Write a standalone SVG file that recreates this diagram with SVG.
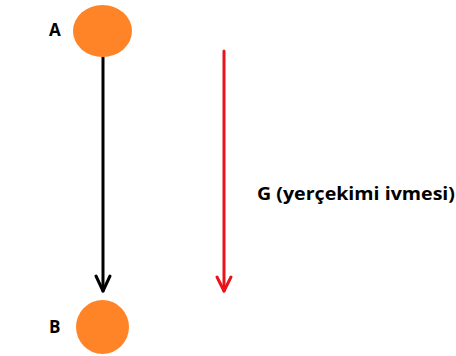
<svg xmlns="http://www.w3.org/2000/svg" width="456" height="356" viewBox="0 0 456 356">
<style>
.node{fill:#ff8427}
.lbl{font-family:"Open Sans","Liberation Sans",sans-serif;font-weight:bold;font-size:17px;fill:#000}
</style>
<rect width="456" height="356" fill="#fff"/>
<g id="connectors" fill="none" stroke-width="3" stroke-linecap="round">
<g id="ab" stroke="#000">
<line x1="103" y1="57" x2="103" y2="291"/>
<polyline points="96,276 103,291 110,276" stroke-linejoin="round"/>
</g>
<g id="gravity" stroke="#e8141a">
<line x1="224" y1="51" x2="224" y2="291"/>
<polyline points="217,277 224,291 231,277" stroke-linejoin="round"/>
</g>
</g>
<g id="nodeA">
<ellipse class="node" cx="102.5" cy="31" rx="29.5" ry="26"/>
<text class="lbl" x="49" y="36">A</text>
</g>
<g id="nodeB">
<ellipse class="node" cx="102.5" cy="327" rx="26.5" ry="27"/>
<text class="lbl" x="49" y="333">B</text>
</g>
<g id="labelG">
<text class="lbl" x="257" y="200" textLength="198" lengthAdjust="spacingAndGlyphs">G (yerçekimi ivmesi)</text>
</g>
</svg>
